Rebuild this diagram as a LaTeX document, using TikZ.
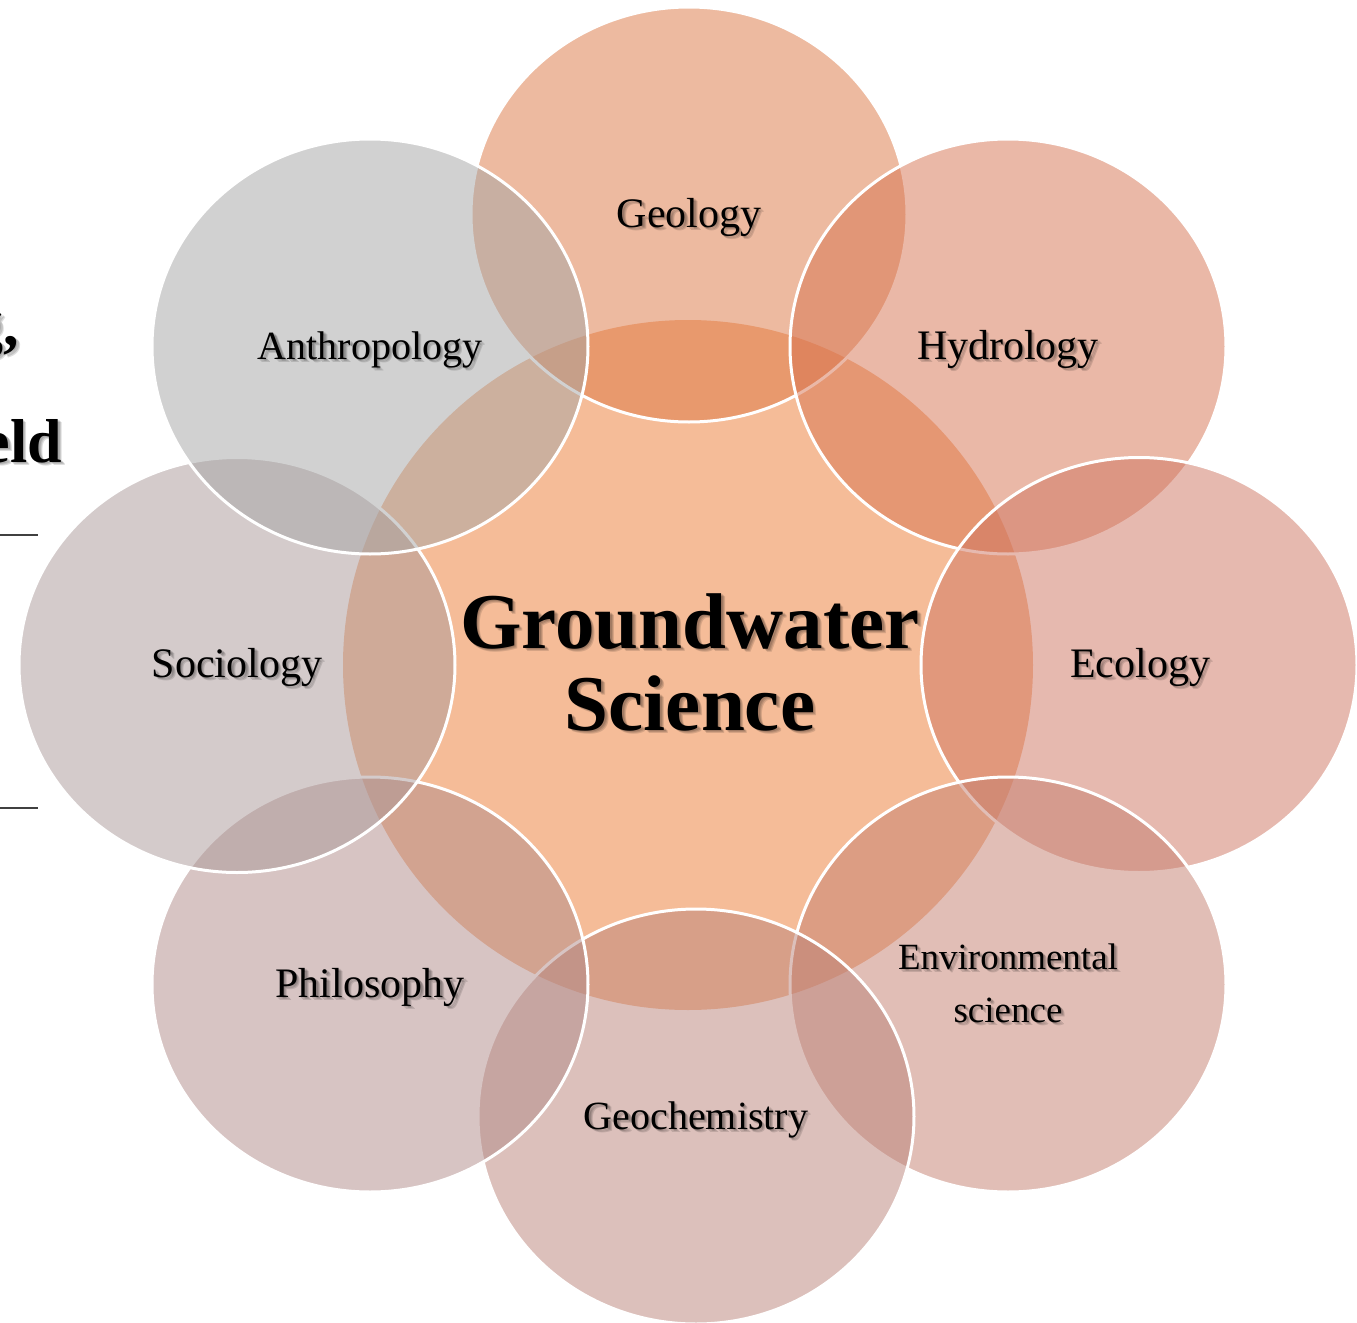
\documentclass[tikz,border=0pt]{standalone}
\usepackage{fontspec}
\setmainfont{Liberation Serif}
\definecolor{cctr}{RGB}{245,188,152}
\definecolor{cgeo}{RGB}{221,119,67}
\definecolor{chyd}{RGB}{215,115,80}
\definecolor{ceco}{RGB}{207,117,97}
\definecolor{cenv}{RGB}{197,127,111}
\definecolor{cgch}{RGB}{187,131,121}
\definecolor{cphi}{RGB}{177,139,137}
\definecolor{csoc}{RGB}{171,153,153}
\definecolor{cant}{RGB}{165,165,165}
\definecolor{crule}{RGB}{64,64,64}
\tikzset{
  outer/.style={fill=#1, fill opacity=0.5, draw=white, draw opacity=1, line width=1.5pt},
  txt/.style={inner sep=0pt, outer sep=0pt, text=black, anchor=base},
  txtsh/.style={inner sep=0pt, outer sep=0pt, text=black, text opacity=0.13, anchor=base},
  lbl/.style={font=\fontsize{21}{24}\selectfont},
  lblsm/.style={font=\fontsize{20}{24}\selectfont},
  lblxs/.style={font=\fontsize{18.5}{22}\selectfont},
  ctr/.style={font=\bfseries\fontsize{39.5}{44}\selectfont},
  lft/.style={font=\bfseries\fontsize{31}{36}\selectfont},
  siderule/.style={draw=crule, line width=0.75pt}
}
\newcommand{\shtext}[5]{%
  \node[txtsh,#4] (#1-sha) at (#2+1.5,#3+1.5) {#5};
  \node[txtsh,#4] (#1-shb) at (#2+2.5,#3+2.5) {#5};
  \node[txtsh,#4] (#1-shc) at (#2+3.5,#3+3.5) {#5};
  \node[txt,#4] (#1) at (#2,#3) {#5};
}
\begin{document}
\begin{tikzpicture}[x=0.5pt,y=-0.5pt]
\clip (0,0) rectangle (1357,1323);
\fill[white] (0,0) rectangle (1357,1323);
% left fragments
\shtext{lefta}{19}{345}{lft,anchor=base east}{g,}
\shtext{leftb}{62}{462}{lft,anchor=base east}{eld}
\draw[siderule] (0,535) -- (38,535);
\draw[siderule] (0,808) -- (38,808);
% centre circle
\fill[cctr] (688,665) circle [radius=172.5pt];
% outer circles, clockwise from top
\path[outer=cgeo] (689,214.5) ellipse [x radius=109pt, y radius=103.75pt];
\path[outer=chyd] (1008,346.5) ellipse [x radius=109pt, y radius=103.75pt];
\path[outer=ceco] (1139,665) ellipse [x radius=109pt, y radius=103.75pt];
\path[outer=cenv] (1008,984.5) ellipse [x radius=109pt, y radius=103.75pt];
\path[outer=cgch] (696,1116.5) ellipse [x radius=109pt, y radius=103.75pt];
\path[outer=cphi] (370,984.5) ellipse [x radius=109pt, y radius=103.75pt];
\path[outer=csoc] (237,665) ellipse [x radius=109pt, y radius=103.75pt];
\path[outer=cant] (370,346.5) ellipse [x radius=109pt, y radius=103.75pt];
% labels
\shtext{geology}{689}{227}{lbl}{Geology}
\shtext{hydrology}{1008}{359}{lbl}{Hydrology}
\shtext{ecology}{1140}{677}{lbl}{Ecology}
\shtext{env1}{1008}{969}{lblxs}{Environmental}
\shtext{env2}{1008}{1022}{lblxs}{science}
\shtext{geochem}{696}{1129}{lblsm}{Geochemistry}
\shtext{philosophy}{370}{997}{lbl}{Philosophy}
\shtext{sociology}{237}{677}{lbl}{Sociology}
\shtext{anthropology}{370}{359}{lblsm}{Anthropology}
\shtext{gw1}{690}{648}{ctr}{Groundwater}
\shtext{gw2}{690}{730}{ctr}{Science}
\end{tikzpicture}
\end{document}
